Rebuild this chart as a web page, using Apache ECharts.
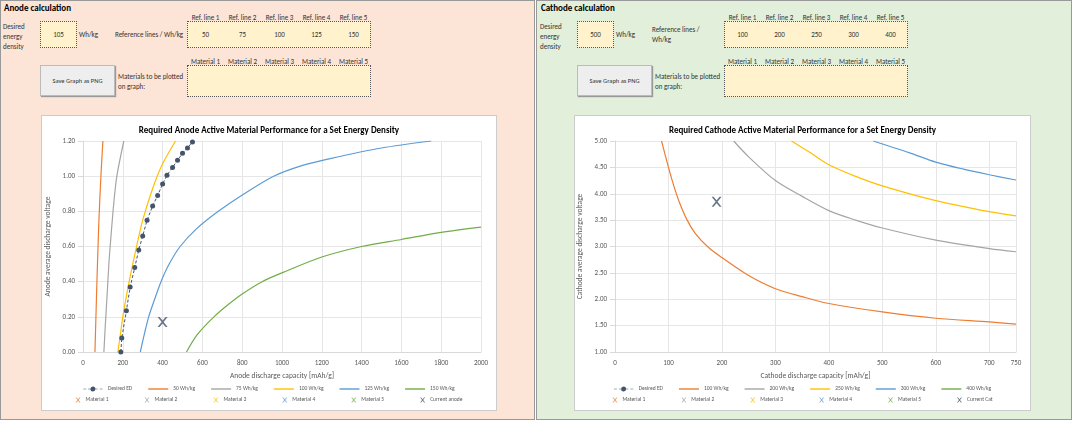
<!DOCTYPE html><html><head><meta charset="utf-8">
<script src="https://cdn.jsdelivr.net/npm/echarts@6/dist/echarts.min.js"></script>
<style>
body{margin:0;width:1076px;height:426px;position:relative;font-family:Calibri,Carlito,"Liberation Sans",sans-serif;font-size:7px;color:#333;overflow:hidden;background:#fff}
.p{position:absolute}
.box{position:absolute;background:#fff2cc;border:1px dotted #555;box-sizing:border-box}
.btn{position:absolute;background:#eee;border:1px solid #bbb;box-shadow:1px 1px 1px #999;box-sizing:border-box;text-align:center;font-size:6.5px}
.chart{position:absolute;background:#fff;border:1px solid #ccc;box-sizing:border-box}
.t{position:absolute;font-size:7px;white-space:nowrap}
</style></head><body>
<div class="p" style="left:0;top:0;width:535px;height:420px;background:#fce4d6;border:1px solid #999;box-sizing:border-box"></div>
<div class="p" style="left:536px;top:0;width:536px;height:420px;background:#e2efda;border:1px solid #999;box-sizing:border-box"></div>
<div id="ui"></div>
<div id="c1" class="chart" style="left:41px;top:115px;width:456px;height:296px"></div>
<div id="c2" class="chart" style="left:574px;top:115px;width:457px;height:296px"></div>
<script>
// ---- data ----
const anodeRefLabels=["Ref. line 1","Ref. line 2","Ref. line 3","Ref. line 4","Ref. line 5"];
const anodeRefValues=[50,75,100,125,150];
const cathodeRefValues=[100,200,250,300,400];
const materialLabels=["Material 1","Material 2","Material 3","Material 4","Material 5"];
const anodeDesired=105, cathodeDesired=500;
const anodeED=[[190,0],[195,0.08],[218,0.235],[237,0.37],[260,0.48],[280,0.58],[300,0.66],[322,0.75],[350,0.83],[375,0.89],[400,0.955],[422,1.005],[450,1.05],[475,1.09],[500,1.13],[525,1.16],[550,1.195]];
const anode50=[[60,0],[65,0.2],[70,0.4],[75,0.58],[80,0.75],[90,1.0],[100,1.2]];
const anode75=[[105,0],[112,0.15],[120,0.3],[130,0.5],[140,0.65],[155,0.85],[170,1.0],[205,1.2]];
const anode100=[[175,0],[188,0.1],[200,0.2],[225,0.36],[250,0.5],[275,0.63],[300,0.75],[350,0.93],[400,1.07],[465,1.2]];
const anode125=[[288,0],[308,0.1],[330,0.2],[360,0.3],[392,0.4],[433,0.5],[488,0.6],[570,0.7],[680,0.8],[810,0.9],[958,1.0],[1100,1.06],[1242,1.1],[1500,1.16],[1750,1.2]];
const anode150=[[520,0],[575,0.1],[658,0.2],[730,0.27],[800,0.33],[900,0.4],[1000,0.45],[1200,0.54],[1400,0.6],[1600,0.64],[1800,0.68],[2000,0.71]];
const anodeCurrent=[[400,0.17]];
const cath100=[[87,5],[100,4.5],[110,4.15],[120,3.85],[135,3.5],[150,3.25],[175,2.98],[200,2.79],[250,2.45],[300,2.2],[350,2.05],[400,1.92],[500,1.76],[600,1.64],[700,1.57],[750,1.53]];
const cath200=[[222,5],[250,4.7],[300,4.25],[350,3.95],[400,3.68],[450,3.5],[500,3.35],[600,3.12],[700,2.96],[750,2.9]];
const cath250=[[330,5],[365,4.78],[400,4.55],[450,4.33],[500,4.15],[600,3.87],[700,3.66],[750,3.58]];
const cath300=[[483,5],[550,4.78],[600,4.6],[650,4.47],[700,4.36],[750,4.26]];
const cath400=[];
const cathCurrent=[[190,3.85]];

// ---- UI ----
const ui=document.getElementById('ui');
function add(cls,l,t,w,h,html,st){const d=document.createElement('div');d.className=cls;d.style.cssText=`left:${l}px;top:${t}px;`+(w?`width:${w}px;`:'')+(h?`height:${h}px;`:'')+(st||'');d.innerHTML=html||'';ui.appendChild(d);return d;}
function panel(x0,title,des,refLbl,refs,refTextTop){
 add('t',x0+4,2,0,0,title,'font-weight:bold;font-size:9px;color:#000');
 add('t',x0+3,22,0,0,'Desired<br>energy<br>density','line-height:10px');
 add('box',x0+40,21,37,27,'<div style="text-align:center;line-height:25px">'+des+'</div>');
 add('t',x0+79,30,0,0,'Wh/kg');
 add('t',x0+115,refTextTop,0,0,refLbl,'line-height:10px');
 const bx=x0+187;
 add('box',bx,21,184,27,'');
 refs.forEach((v,i)=>{add('t',bx+i*37,13,37,0,anodeRefLabels[i],'text-align:center');add('t',bx+i*37,30,37,0,String(v),'text-align:center');});
 add('btn',x0+40,65,75,31,'<div style="line-height:30px">Save Graph as PNG</div>');
 add('t',x0+118,72,0,0,'Materials to be plotted<br>on graph:','line-height:10px');
 add('box',bx,65,184,32,'');
 materialLabels.forEach((m,i)=>add('t',bx+i*37,57,37,0,m,'text-align:center'));
}
panel(0,'Anode calculation',anodeDesired,'Reference lines / Wh/kg',anodeRefValues,30);
panel(537,'Cathode calculation',cathodeDesired,'Reference lines /<br>Wh/kg',cathodeRefValues,25);

// ---- charts ----
const cols=['#ed7d31','#a5a5a5','#ffc000','#5b9bd5','#70ad47'];
const tf={fontFamily:'Calibri,Carlito,sans-serif'};
const X='path://M0,0L2,0L5,3.5L8,0L10,0L6,5L10,10L8,10L5,6.5L2,10L0,10L4,5Z';
const LINE='path://M0,0L20,0L20,1.4L0,1.4Z';
const EDICON='path://M0,2.3L3,2.3L3,2.9L0,2.9ZM5,2.3L8,2.3L8,2.9L5,2.9ZM12,2.3L15,2.3L15,2.9L12,2.9ZM17,2.3L20,2.3L20,2.9L17,2.9ZM10,0A2.6,2.6 0 1 1 9.99,0Z';
function mk(el,title,xName,yName,xmax,xint,ymin,ymax,yint,lines,refs,cur,curName,left,right){
 const series=[{name:'Desired ED',type:'line',data:lines[0],symbol:'circle',symbolSize:5,lineStyle:{type:[3,2],width:1,color:'#44546a'},itemStyle:{color:'#44546a'},z:5}];
 refs.forEach((r,i)=>series.push({name:r+' Wh/kg',type:'line',data:lines[i+1],smooth:0.3,showSymbol:false,lineStyle:{width:1.2,color:cols[i]},itemStyle:{color:cols[i]}}));
 materialLabels.forEach((m,i)=>series.push({name:m,type:'scatter',data:[],symbol:X,itemStyle:{color:cols[i]}}));
 series.push({name:curName,type:'scatter',data:cur,symbol:X,symbolSize:10,itemStyle:{color:'#44546a'}});
 const row1=[{name:'Desired ED',icon:EDICON,itemStyle:{color:'#44546a'}}].concat(refs.map((r,i)=>({name:r+' Wh/kg',icon:LINE,itemStyle:{color:cols[i]}})));
 const row2=materialLabels.map((m,i)=>({name:m,icon:X,itemStyle:{color:cols[i]}})).concat([{name:curName,icon:X,itemStyle:{color:'#44546a'}}]);
 echarts.init(el).setOption({animation:false,textStyle:tf,
  title:{text:title,left:'center',top:5,textStyle:{fontSize:9,fontWeight:'bold',color:'#000'}},
  grid:{left:left,right:right,top:25,height:211,containLabel:false,outerBoundsMode:'none'},
  xAxis:{type:'value',min:0,max:xmax,interval:xint,name:xName,nameLocation:'middle',nameGap:18,nameTextStyle:{fontSize:7.5,color:'#595959'},axisLabel:{fontSize:7,color:'#595959',formatter:v=>String(v)},axisLine:{lineStyle:{color:'#d9d9d9'}},axisTick:{show:false},splitLine:{lineStyle:{color:'#e6e6e6'}}},
  yAxis:{type:'value',min:ymin,max:ymax,interval:yint,name:yName,nameLocation:'middle',nameGap:26,nameTextStyle:{fontSize:7.5,color:'#595959'},axisLabel:{fontSize:7,color:'#595959',formatter:v=>v.toFixed(2)},axisLine:{show:true,lineStyle:{color:'#d9d9d9'}},splitLine:{lineStyle:{color:'#e6e6e6'}}},
  legend:[{data:row1,bottom:13,itemGap:16,itemWidth:20,itemHeight:5,textStyle:{fontSize:5.5,color:'#595959'}},
          {data:row2,bottom:2,itemGap:36,itemWidth:5,itemHeight:5,textStyle:{fontSize:5.5,color:'#595959'}}],
  series});
}
mk(document.getElementById('c1'),'Required Anode Active Material Performance for a Set Energy Density','Anode discharge capacity [mAh/g]','Anode average discharge voltage',2000,200,0,1.2,0.2,
 [anodeED,anode50,anode75,anode100,anode125,anode150],anodeRefValues,anodeCurrent,'Current anode',41,15);
mk(document.getElementById('c2'),'Required Cathode Active Material Performance for a Set Energy Density','Cathode discharge capacity [mAh/g]','Cathode average discharge voltage',750,100,1,5,0.5,
 [[],cath100,cath200,cath250,cath300,cath400],cathodeRefValues,cathCurrent,'Current Cat',40,14);
</script></body></html>
